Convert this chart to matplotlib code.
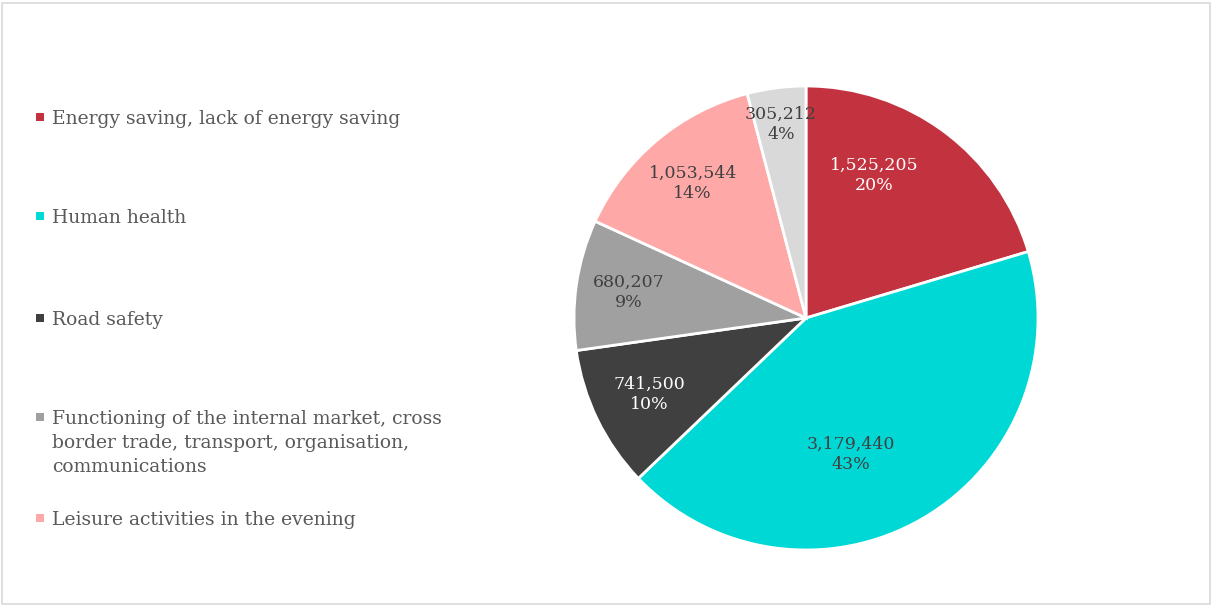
import numpy as np
import matplotlib.pyplot as plt
from matplotlib.patches import Rectangle

# ---- Data ----
categories = [
    "Energy saving, lack of energy saving",
    "Human health",
    "Road safety",
    "Functioning of the internal market, cross\nborder trade, transport, organisation,\ncommunications",
    "Leisure activities in the evening",
    "Other",
]
values = [1525205, 3179440, 741500, 680207, 1053544, 305212]
colors = ["#C3323F", "#00D8D6", "#404040", "#A0A0A0", "#FFA8A8", "#D9D9D9"]
label_colors = ["white", "#404040", "white", "#404040", "#404040", "#404040"]

# label placement (fraction of radius, angle nudge in degrees)
label_r = [0.68, 0.62, 0.75, 0.77, 0.76, 0.84]
label_da = [11, -12, 0, 0, 0, 0]


def rounded_pcts(vals):
    # largest remainder rounding so percentages add to 100 (as Excel shows)
    raw = np.array(vals, dtype=float) / sum(vals) * 100
    base = np.floor(raw).astype(int)
    rest = 100 - base.sum()
    order = np.argsort(-(raw - base))
    base[order[:rest]] += 1
    return base


W, H = 1212, 605
fig = plt.figure(figsize=(W / 100, H / 100), dpi=100)
fig.patch.set_facecolor("white")
fig.patches.append(Rectangle((1.5 / W, 1.5 / H), 1 - 4 / W, 1 - 4 / H,
                             transform=fig.transFigure, fill=False,
                             edgecolor="#D9D9D9", linewidth=1.2))

# pie axes: centre (806, 318) px, radius 232 px
cx, cy, r = 806, 318, 232
ax = fig.add_axes([(cx - r) / W, (H - cy - r) / H, 2 * r / W, 2 * r / H])
wedges, _ = ax.pie(values, colors=colors, startangle=90, counterclock=False,
                   radius=1, wedgeprops=dict(edgecolor="white", linewidth=2))
ax.set_xlim(-1, 1)
ax.set_ylim(-1, 1)
ax.set_aspect("equal")
ax.axis("off")

pcts = rounded_pcts(values)
for i, w in enumerate(wedges):
    ang = np.deg2rad((w.theta1 + w.theta2) / 2 + label_da[i])
    x = label_r[i] * np.cos(ang)
    y = label_r[i] * np.sin(ang)
    ax.text(x, y, f"{values[i]:,}\n{pcts[i]}%", ha="center", va="center",
            fontsize=12.5, family="DejaVu Serif", color=label_colors[i],
            linespacing=1.25)

# legend (only first five entries visible in the original)
leg_top = [117, 216, 318, 417, 518]
for i in range(5):
    yc = leg_top[i]
    fig.patches.append(Rectangle((36 / W, 1 - (yc + 4) / H), 8 / W, 8 / H,
                                 transform=fig.transFigure, facecolor=colors[i],
                                 edgecolor="none"))
    fig.text(52 / W, 1 - (yc - 7) / H, categories[i], ha="left", va="top",
             fontsize=13.5, family="DejaVu Serif", color="#595959",
             linespacing=1.42)

fig.savefig("out.png", dpi=100)
